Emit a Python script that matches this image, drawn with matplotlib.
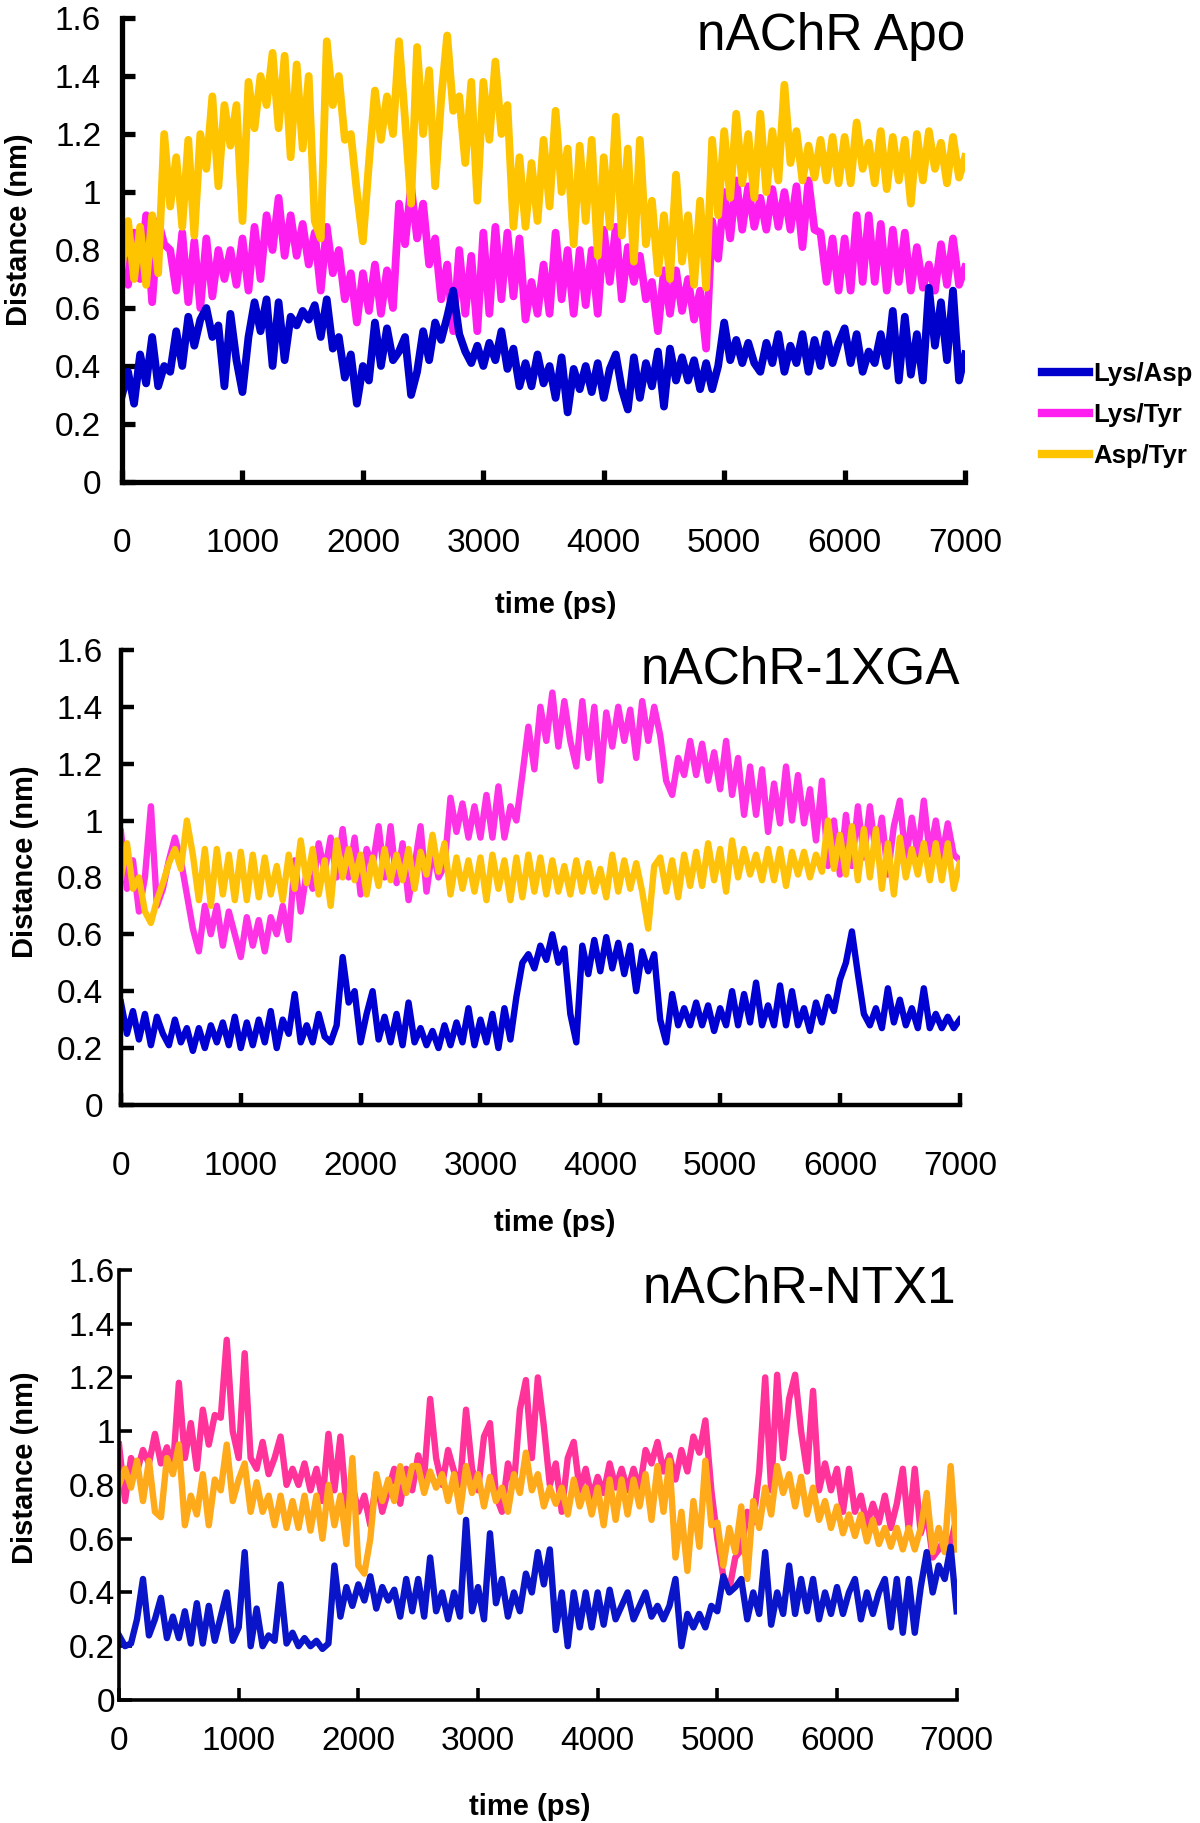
import numpy as np
import matplotlib
matplotlib.use("Agg")
import matplotlib.pyplot as plt
from matplotlib import font_manager

# sampling grid of the trajectories (ps)
TIME_PS = np.arange(0, 7001, 50)

X_TICKS = [0, 1000, 2000, 3000, 4000, 5000, 6000, 7000]
X_TICK_LABELS = ["0", "1000", "2000", "3000", "4000", "5000", "6000", "7000"]
Y_TICKS = [0, 0.2, 0.4, 0.6, 0.8, 1.0, 1.2, 1.4, 1.6]
Y_TICK_LABELS = ["0", "0.2", "0.4", "0.6", "0.8", "1", "1.2", "1.4", "1.6"]
LEGEND_LABELS = ["Lys/Asp", "Lys/Tyr", "Asp/Tyr"]
TITLES = ["nAChR Apo", "nAChR-1XGA", "nAChR-NTX1"]

# ---- nAChR Apo ----
APO_LYS_ASP = [
    0.30, 0.38, 0.27, 0.44, 0.34, 0.50, 0.33, 0.40, 0.38, 0.52,
    0.40, 0.57, 0.47, 0.56, 0.60, 0.50, 0.54, 0.33, 0.58, 0.42,
    0.31, 0.50, 0.62, 0.52, 0.63, 0.40, 0.62, 0.42, 0.57, 0.54,
    0.59, 0.56, 0.61, 0.50, 0.63, 0.46, 0.50, 0.36, 0.44, 0.27,
    0.40, 0.35, 0.55, 0.40, 0.53, 0.42, 0.45, 0.50, 0.30, 0.38,
    0.52, 0.42, 0.55, 0.49, 0.57, 0.66, 0.51, 0.45, 0.41, 0.47,
    0.40, 0.48, 0.42, 0.52, 0.39, 0.46, 0.33, 0.41, 0.33, 0.44,
    0.34, 0.40, 0.29, 0.43, 0.24, 0.39, 0.32, 0.40, 0.31, 0.41,
    0.29, 0.39, 0.44, 0.32, 0.25, 0.43, 0.29, 0.41, 0.33, 0.45,
    0.26, 0.46, 0.35, 0.43, 0.35, 0.42, 0.32, 0.41, 0.32, 0.40,
    0.55, 0.42, 0.49, 0.41, 0.48, 0.41, 0.38, 0.48, 0.41, 0.51,
    0.38, 0.47, 0.41, 0.51, 0.38, 0.49, 0.40, 0.51, 0.41, 0.48,
    0.53, 0.41, 0.51, 0.38, 0.45, 0.41, 0.51, 0.40, 0.59, 0.35,
    0.57, 0.37, 0.51, 0.35, 0.67, 0.47, 0.62, 0.42, 0.66, 0.35,
    0.44,
]
APO_LYS_TYR = [
    0.80, 0.68, 0.86, 0.70, 0.92, 0.62, 0.90, 0.82, 0.80, 0.66,
    0.86, 0.62, 0.83, 0.60, 0.84, 0.64, 0.80, 0.70, 0.80, 0.68,
    0.84, 0.66, 0.88, 0.70, 0.92, 0.80, 0.98, 0.78, 0.92, 0.78,
    0.89, 0.75, 0.86, 0.66, 0.88, 0.72, 0.80, 0.63, 0.72, 0.55,
    0.72, 0.59, 0.75, 0.58, 0.73, 0.60, 0.96, 0.82, 1.02, 0.84,
    0.96, 0.75, 0.84, 0.63, 0.75, 0.52, 0.80, 0.58, 0.78, 0.52,
    0.86, 0.58, 0.88, 0.63, 0.86, 0.64, 0.84, 0.56, 0.69, 0.58,
    0.75, 0.58, 0.86, 0.63, 0.80, 0.58, 0.80, 0.61, 0.80, 0.58,
    0.87, 0.69, 0.88, 0.63, 0.81, 0.69, 0.78, 0.63, 0.69, 0.52,
    0.73, 0.58, 0.73, 0.59, 0.70, 0.56, 0.66, 0.46, 0.90, 0.77,
    1.00, 0.84, 1.04, 0.87, 1.02, 0.88, 0.98, 0.87, 1.01, 0.88,
    1.00, 0.87, 1.02, 0.81, 1.04, 0.87, 0.86, 0.69, 0.84, 0.66,
    0.84, 0.66, 0.92, 0.69, 0.92, 0.69, 0.89, 0.66, 0.87, 0.69,
    0.86, 0.66, 0.81, 0.67, 0.75, 0.66, 0.82, 0.68, 0.84, 0.68,
    0.74,
]
APO_ASP_TYR = [
    0.75, 0.90, 0.70, 0.88, 0.68, 0.92, 0.72, 1.20, 0.95, 1.12,
    0.88, 1.18, 0.85, 1.20, 1.08, 1.33, 1.02, 1.30, 1.16, 1.30,
    0.90, 1.38, 1.22, 1.40, 1.30, 1.48, 1.22, 1.47, 1.12, 1.44,
    1.15, 1.40, 0.90, 0.84, 1.52, 1.30, 1.40, 1.18, 1.20, 1.00,
    0.83, 1.10, 1.35, 1.18, 1.33, 1.20, 1.52, 1.25, 0.96, 1.50,
    1.20, 1.42, 1.02, 1.32, 1.54, 1.28, 1.33, 1.10, 1.38, 0.97,
    1.38, 1.18, 1.45, 1.20, 1.30, 0.88, 1.12, 0.88, 1.10, 0.90,
    1.18, 0.95, 1.28, 1.00, 1.15, 0.82, 1.16, 0.90, 1.18, 0.78,
    1.12, 0.88, 1.26, 0.85, 1.15, 0.76, 1.18, 0.82, 0.97, 0.72,
    0.92, 0.70, 1.06, 0.76, 0.92, 0.68, 0.97, 0.67, 1.18, 0.92,
    1.21, 0.98, 1.27, 1.03, 1.20, 0.98, 1.27, 1.00, 1.21, 1.04,
    1.37, 1.10, 1.21, 1.04, 1.16, 1.05, 1.18, 1.04, 1.19, 1.03,
    1.19, 1.03, 1.24, 1.08, 1.17, 1.03, 1.21, 1.01, 1.19, 1.04,
    1.18, 0.96, 1.20, 1.04, 1.21, 1.08, 1.17, 1.03, 1.19, 1.05,
    1.12,
]

# ---- nAChR-1XGA ----
XGA_LYS_ASP = [
    0.36, 0.25, 0.33, 0.23, 0.32, 0.21, 0.31, 0.25, 0.21, 0.30,
    0.22, 0.27, 0.19, 0.27, 0.20, 0.28, 0.22, 0.29, 0.21, 0.31,
    0.20, 0.29, 0.21, 0.30, 0.22, 0.33, 0.20, 0.30, 0.25, 0.39,
    0.22, 0.28, 0.22, 0.32, 0.24, 0.22, 0.28, 0.52, 0.36, 0.40,
    0.22, 0.32, 0.40, 0.23, 0.31, 0.22, 0.32, 0.21, 0.36, 0.22,
    0.27, 0.21, 0.26, 0.20, 0.28, 0.21, 0.29, 0.22, 0.34, 0.21,
    0.30, 0.22, 0.32, 0.20, 0.34, 0.23, 0.38, 0.50, 0.53, 0.48,
    0.56, 0.51, 0.60, 0.50, 0.55, 0.32, 0.22, 0.56, 0.46, 0.58,
    0.47, 0.59, 0.48, 0.57, 0.46, 0.56, 0.40, 0.54, 0.47, 0.53,
    0.30, 0.22, 0.39, 0.28, 0.34, 0.28, 0.36, 0.28, 0.35, 0.26,
    0.34, 0.28, 0.40, 0.28, 0.39, 0.29, 0.43, 0.28, 0.35, 0.28,
    0.42, 0.28, 0.40, 0.28, 0.34, 0.26, 0.36, 0.29, 0.38, 0.33,
    0.44, 0.50, 0.61, 0.46, 0.32, 0.28, 0.34, 0.27, 0.41, 0.29,
    0.37, 0.28, 0.34, 0.27, 0.41, 0.27, 0.32, 0.27, 0.31, 0.27,
    0.30,
]
XGA_LYS_TYR = [
    0.96, 0.76, 0.86, 0.68, 0.80, 1.05, 0.70, 0.76, 0.86, 0.94,
    0.86, 0.74, 0.62, 0.54, 0.70, 0.60, 0.70, 0.56, 0.68, 0.60,
    0.52, 0.66, 0.56, 0.65, 0.54, 0.66, 0.60, 0.70, 0.58, 0.86,
    0.68, 0.82, 0.76, 0.92, 0.82, 0.94, 0.80, 0.97, 0.80, 0.94,
    0.74, 0.90, 0.84, 0.98, 0.80, 0.98, 0.78, 0.92, 0.72, 0.84,
    0.98, 0.75, 0.90, 0.80, 0.84, 1.08, 0.96, 1.06, 0.94, 1.05,
    0.94, 1.09, 0.94, 1.12, 0.94, 1.05, 1.00, 1.16, 1.33, 1.18,
    1.40, 1.28, 1.45, 1.26, 1.42, 1.28, 1.19, 1.42, 1.22, 1.40,
    1.14, 1.38, 1.26, 1.40, 1.28, 1.39, 1.22, 1.42, 1.28, 1.40,
    1.30, 1.14, 1.09, 1.22, 1.16, 1.28, 1.16, 1.27, 1.14, 1.24,
    1.11, 1.28, 1.09, 1.22, 1.02, 1.19, 1.02, 1.18, 0.96, 1.13,
    0.99, 1.19, 1.00, 1.16, 0.99, 1.11, 0.93, 1.14, 0.84, 1.00,
    0.81, 1.02, 0.84, 1.05, 0.87, 1.05, 0.88, 1.01, 0.81, 0.98,
    1.07, 0.86, 1.01, 0.88, 1.07, 0.88, 1.00, 0.87, 0.99, 0.88,
    0.86,
]
XGA_ASP_TYR = [
    0.80, 0.92, 0.76, 0.80, 0.68, 0.64, 0.72, 0.78, 0.85, 0.90,
    0.83, 1.00, 0.88, 0.72, 0.90, 0.70, 0.90, 0.74, 0.88, 0.72,
    0.89, 0.72, 0.88, 0.73, 0.87, 0.74, 0.84, 0.72, 0.88, 0.76,
    0.93, 0.78, 0.90, 0.74, 0.86, 0.70, 0.93, 0.80, 0.90, 0.79,
    0.88, 0.74, 0.87, 0.77, 0.90, 0.79, 0.88, 0.79, 0.90, 0.76,
    0.89, 0.81, 0.95, 0.82, 0.92, 0.74, 0.87, 0.76, 0.86, 0.75,
    0.87, 0.72, 0.88, 0.76, 0.86, 0.72, 0.87, 0.73, 0.88, 0.75,
    0.87, 0.74, 0.86, 0.75, 0.84, 0.74, 0.86, 0.75, 0.85, 0.75,
    0.83, 0.73, 0.88, 0.75, 0.86, 0.76, 0.85, 0.75, 0.62, 0.84,
    0.87, 0.75, 0.86, 0.73, 0.88, 0.77, 0.89, 0.77, 0.92, 0.79,
    0.90, 0.75, 0.93, 0.80, 0.90, 0.81, 0.88, 0.79, 0.90, 0.79,
    0.90, 0.77, 0.89, 0.81, 0.89, 0.80, 0.88, 0.82, 1.00, 0.83,
    0.95, 0.81, 0.98, 0.79, 0.97, 0.80, 0.97, 0.76, 0.92, 0.74,
    0.94, 0.80, 0.90, 0.81, 0.92, 0.79, 0.92, 0.79, 0.92, 0.76,
    0.85,
]

# ---- nAChR-NTX1 ----
NTX_LYS_ASP = [
    0.24, 0.20, 0.21, 0.30, 0.45, 0.24, 0.30, 0.38, 0.23, 0.31,
    0.23, 0.33, 0.21, 0.36, 0.21, 0.35, 0.22, 0.31, 0.40, 0.22,
    0.27, 0.55, 0.20, 0.34, 0.20, 0.24, 0.22, 0.43, 0.21, 0.25,
    0.20, 0.23, 0.20, 0.22, 0.19, 0.21, 0.50, 0.31, 0.42, 0.35,
    0.43, 0.37, 0.46, 0.34, 0.42, 0.37, 0.41, 0.31, 0.45, 0.33,
    0.45, 0.31, 0.53, 0.33, 0.40, 0.30, 0.40, 0.31, 0.67, 0.33,
    0.42, 0.30, 0.62, 0.36, 0.45, 0.31, 0.40, 0.33, 0.47, 0.40,
    0.55, 0.43, 0.56, 0.26, 0.40, 0.20, 0.40, 0.27, 0.40, 0.27,
    0.40, 0.28, 0.41, 0.30, 0.35, 0.40, 0.30, 0.35, 0.40, 0.31,
    0.35, 0.30, 0.35, 0.45, 0.20, 0.32, 0.27, 0.32, 0.27, 0.35,
    0.33, 0.46, 0.40, 0.42, 0.45, 0.30, 0.40, 0.32, 0.55, 0.28,
    0.40, 0.32, 0.50, 0.32, 0.45, 0.33, 0.45, 0.30, 0.40, 0.32,
    0.42, 0.32, 0.40, 0.45, 0.30, 0.40, 0.32, 0.40, 0.45, 0.27,
    0.45, 0.25, 0.45, 0.25, 0.42, 0.55, 0.40, 0.50, 0.45, 0.57,
    0.33,
]
NTX_LYS_TYR = [
    0.95, 0.74, 0.90, 0.85, 0.93, 0.88, 0.99, 0.88, 0.94, 0.86,
    1.18, 0.90, 1.03, 0.86, 1.08, 0.95, 1.06, 1.05, 1.34, 1.00,
    0.90, 1.29, 0.90, 0.86, 0.96, 0.84, 0.90, 0.98, 0.80, 0.86,
    0.80, 0.88, 0.78, 0.86, 0.74, 0.99, 0.78, 0.98, 0.72, 0.80,
    0.70, 0.76, 0.65, 0.82, 0.70, 0.78, 0.86, 0.73, 0.86, 0.78,
    0.91, 0.83, 1.12, 0.90, 0.80, 0.93, 0.85, 0.80, 1.08, 0.86,
    0.78, 0.98, 1.03, 0.76, 0.70, 0.88, 0.80, 1.08, 1.19, 0.90,
    1.20, 1.02, 0.80, 0.88, 0.70, 0.90, 0.96, 0.78, 0.86, 0.75,
    0.83, 0.77, 0.88, 0.79, 0.86, 0.78, 0.86, 0.78, 0.93, 0.88,
    0.96, 0.85, 0.91, 0.82, 0.93, 0.85, 0.98, 0.92, 1.04, 0.78,
    0.60, 0.46, 0.41, 0.53, 0.56, 0.70, 0.66, 0.85, 1.20, 0.78,
    1.21, 0.90, 1.12, 1.21, 1.00, 0.85, 1.15, 0.78, 0.88, 0.78,
    0.86, 0.70, 0.86, 0.70, 0.76, 0.65, 0.73, 0.66, 0.76, 0.64,
    0.73, 0.86, 0.63, 0.86, 0.62, 0.70, 0.53, 0.56, 0.60, 0.58,
    0.68,
]
NTX_ASP_TYR = [
    0.80, 0.86, 0.79, 0.89, 0.74, 0.89, 0.70, 0.68, 0.90, 0.84,
    0.95, 0.65, 0.76, 0.69, 0.84, 0.65, 0.82, 0.78, 0.95, 0.74,
    0.82, 0.88, 0.70, 0.81, 0.70, 0.76, 0.65, 0.76, 0.64, 0.74,
    0.64, 0.76, 0.63, 0.76, 0.60, 0.80, 0.65, 0.76, 0.58, 0.90,
    0.50, 0.47, 0.60, 0.84, 0.74, 0.82, 0.74, 0.87, 0.77, 0.87,
    0.87, 0.77, 0.85, 0.79, 0.84, 0.74, 0.84, 0.70, 0.87, 0.77,
    0.84, 0.72, 0.83, 0.74, 0.79, 0.70, 0.84, 0.77, 0.92, 0.78,
    0.84, 0.72, 0.79, 0.73, 0.79, 0.69, 0.82, 0.72, 0.79, 0.69,
    0.79, 0.65, 0.82, 0.67, 0.82, 0.69, 0.82, 0.72, 0.84, 0.67,
    0.87, 0.70, 0.89, 0.53, 0.70, 0.48, 0.74, 0.57, 0.89, 0.65,
    0.66, 0.50, 0.64, 0.55, 0.72, 0.45, 0.74, 0.64, 0.79, 0.69,
    0.87, 0.77, 0.84, 0.72, 0.83, 0.69, 0.79, 0.67, 0.74, 0.64,
    0.72, 0.62, 0.69, 0.61, 0.69, 0.59, 0.67, 0.58, 0.64, 0.57,
    0.64, 0.56, 0.64, 0.56, 0.64, 0.77, 0.55, 0.64, 0.55, 0.87,
    0.56,
]

installed = {f.name for f in font_manager.fontManager.ttflist}
BASE_FONT = ["Liberation Sans", "DejaVu Sans"]
NARROW_FONT = ["Liberation Sans Narrow"] + BASE_FONT if "Liberation Sans Narrow" in installed else BASE_FONT
plt.rcParams["font.family"] = BASE_FONT

# layout of the three stacked panels (figure fractions)
panels = [
    dict(rect=[0.1017, 0.7356, 0.7025, 0.2545],
         data=(APO_LYS_ASP, APO_LYS_TYR, APO_ASP_TYR),
         colors=("#0000CC", "#FF1EF0", "#FFC400"),
         lw=5.6, spine=3.8, xpad=33, ypad=15, font=BASE_FONT,
         ylab_x=-0.122, ylab_y=0.543, xlab_x=0.514, xlab_y=-0.265, title_y=0.961),
    dict(rect=[0.1008, 0.3939, 0.6990, 0.2496],
         data=(XGA_LYS_ASP, XGA_LYS_TYR, XGA_ASP_TYR),
         colors=("#0000D2", "#FF33E6", "#FFC20A"),
         lw=4.6, spine=3.2, xpad=33, ypad=13, font=NARROW_FONT,
         ylab_x=-0.114, ylab_y=0.534, xlab_x=0.517, xlab_y=-0.259, title_y=0.956),
    dict(rect=[0.0992, 0.0675, 0.6980, 0.2359],
         data=(NTX_LYS_ASP, NTX_LYS_TYR, NTX_ASP_TYR),
         colors=("#0A14C8", "#FF3399", "#FFAA1A"),
         lw=4.6, spine=2.6, xpad=19, ypad=3, font=NARROW_FONT,
         ylab_x=-0.112, ylab_y=0.54, xlab_x=0.49, xlab_y=-0.249, title_y=0.956),
]

fig = plt.figure(figsize=(12, 18.23), dpi=100)
legend_handles = None

for title, p in zip(TITLES, panels):
    ax = fig.add_axes(p["rect"])
    lys_asp, lys_tyr, asp_tyr = p["data"]
    c_asp, c_tyr, c_asptyr = p["colors"]
    h2, = ax.plot(TIME_PS, lys_tyr, color=c_tyr, lw=p["lw"], zorder=2)
    h3, = ax.plot(TIME_PS, asp_tyr, color=c_asptyr, lw=p["lw"], zorder=3)
    h1, = ax.plot(TIME_PS, lys_asp, color=c_asp, lw=p["lw"], zorder=4)
    if legend_handles is None:
        legend_handles = [h1, h2, h3]

    ax.set_xlim(0, 7000)
    ax.set_ylim(0, 1.6)
    for side in ("top", "right"):
        ax.spines[side].set_visible(False)
    for side in ("left", "bottom"):
        ax.spines[side].set_linewidth(p["spine"])
        ax.spines[side].set_zorder(5)

    ax.set_xticks(X_TICKS)
    ax.set_xticklabels(X_TICK_LABELS, family=p["font"], fontsize=24)
    ax.set_yticks(Y_TICKS)
    ax.set_yticklabels(Y_TICK_LABELS, family=p["font"], fontsize=24)
    ax.tick_params(direction="in", length=9, width=p["spine"])
    ax.tick_params(axis="x", pad=p["xpad"])
    ax.tick_params(axis="y", pad=p["ypad"])

    ax.set_ylabel("Distance (nm)", fontsize=21, fontweight="bold", family=p["font"])
    ax.yaxis.set_label_coords(p["ylab_x"], p["ylab_y"])
    ax.yaxis.label.set_va("center")
    ax.set_xlabel("time (ps)", fontsize=21, fontweight="bold", family=p["font"])
    ax.xaxis.set_label_coords(p["xlab_x"], p["xlab_y"])
    ax.xaxis.label.set_va("center")

    ax.text(1.0, p["title_y"], title, transform=ax.transAxes, ha="right", va="center",
            fontsize=37, family=p["font"], zorder=6)

leg = fig.legend(legend_handles, LEGEND_LABELS, loc="center left", bbox_to_anchor=(0.868, 0.7724),
                 frameon=False, prop={"weight": "bold", "size": 18.5}, handlelength=1.85,
                 handletextpad=0.15, labelspacing=0.65, borderpad=0, borderaxespad=0)
for line in leg.get_lines():
    line.set_linewidth(6)

fig.savefig("out.png", dpi=100)
